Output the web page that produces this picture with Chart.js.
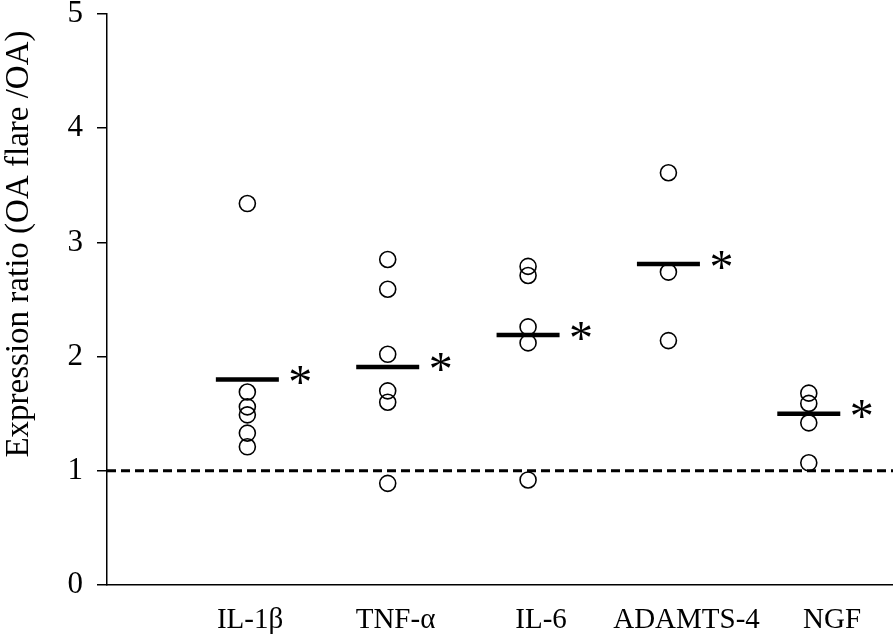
<!DOCTYPE html>
<html>
<head>
<meta charset="utf-8">
<script src="https://cdn.jsdelivr.net/npm/chart.js@4"></script>
<style>
  html, body { margin: 0; padding: 0; background: #fff; }
  #wrap { width: 893px; height: 642px; }
</style>
</head>
<body>
<div id="wrap"><canvas id="myChart"></canvas></div>
<script>
// values
const categories = ['IL-1β', 'TNF-α', 'IL-6', 'ADAMTS-4', 'NGF'];
const il1b = [3.34, 1.69, 1.56, 1.49, 1.33, 1.21];
const tnfa = [2.85, 2.59, 2.02, 1.70, 1.60, 0.89];
const il6 = [2.79, 2.71, 2.26, 2.12, 0.92];
const adamts4 = [3.61, 2.74, 2.14];
const ngf = [1.68, 1.59, 1.42, 1.07];
const means = [1.80, 1.91, 2.19, 2.81, 1.50];
const significant = [true, true, true, true, true];
const yTicks = [0, 1, 2, 3, 4, 5];
const baseline = 1;

const groups = [il1b, tnfa, il6, adamts4, ngf];
const serif = "'Liberation Serif', 'Times New Roman', serif";

var points = [];
groups.forEach(function (vals, i) {
    vals.forEach(function (v) { points.push({x: i + 1, y: v}); });
});
var meanPts = means.map(function (m, i) { return {x: i + 1, y: m}; });

// draws the "*" next to each mean bar
const starPlugin = {
    id: 'stars',
    afterDatasetsDraw(chart) {
        var ctx = chart.ctx, xs = chart.scales.x, ys = chart.scales.y;
        ctx.save();
        ctx.fillStyle = '#000';
        ctx.font = '48px ' + serif;
        ctx.textAlign = 'center';
        ctx.textBaseline = 'middle';
        means.forEach(function (m, i) {
            if (!significant[i]) return;
            ctx.fillText('*', xs.getPixelForValue(i + 1) + 53, ys.getPixelForValue(m) + 6);
        });
        ctx.restore();
    }
};

function noPad(s) {
    s.paddingTop = 0; s.paddingBottom = 0; s.paddingLeft = 0; s.paddingRight = 0;
}

var ctx = document.getElementById('myChart').getContext('2d');
var myChart = new Chart(ctx, {
    type: 'scatter',
    data: {
        datasets: [{
            label: 'ratio',
            data: points,
            pointStyle: 'circle',
            pointRadius: 8,
            pointHoverRadius: 8,
            pointBorderWidth: 1.6,
            borderColor: '#000',
            backgroundColor: 'rgba(0,0,0,0)'
        }, {
            label: 'mean',
            data: meanPts,
            pointStyle: 'line',
            pointRadius: 31.5,
            pointHoverRadius: 31.5,
            pointBorderWidth: 4.5,
            borderColor: '#000'
        }, {
            label: 'baseline',
            type: 'line',
            data: [{x: 0, y: baseline}, {x: 5.6, y: baseline}],
            borderColor: '#000',
            borderWidth: 3,
            borderDash: [9, 5],
            pointRadius: 0
        }]
    },
    options: {
        responsive: true,
        maintainAspectRatio: false,
        animation: false,
        layout: { autoPadding: false, padding: { top: 14, right: 0, left: 0, bottom: 0 } },
        plugins: {
            legend: { display: false },
            tooltip: { enabled: false }
        },
        scales: {
            x: {
                type: 'linear',
                min: 0,
                max: 5.6,
                weight: 0,
                ticks: { display: false },
                grid: { display: false, drawTicks: false },
                border: { display: true, color: '#000', width: 1.5 },
                afterFit: function (s) { s.height = 0; noPad(s); }
            },
            xl: {
                type: 'linear',
                position: 'bottom',
                min: 0.017,
                max: 5.419,
                weight: 1,
                afterBuildTicks: function (s) { s.ticks = categories.map(function (c, i) { return {value: i + 1}; }); },
                grid: { display: false, drawTicks: false },
                border: { display: false },
                ticks: {
                    autoSkip: false,
                    maxRotation: 0,
                    padding: 18,
                    color: '#000',
                    font: { family: serif, size: 29 },
                    callback: function (v) {
                        return (Number.isInteger(v) && v >= 1 && v <= categories.length) ? categories[v - 1] : '';
                    }
                },
                afterFit: function (s) { s.height = 57; noPad(s); }
            },
            y: {
                min: yTicks[0],
                max: yTicks[yTicks.length - 1],
                afterBuildTicks: function (s) { s.ticks = yTicks.map(function (v) { return {value: v}; }); },
                grid: { display: true, drawOnChartArea: false, drawTicks: true, tickLength: 10, color: '#000', lineWidth: 1.5 },
                border: { display: true, color: '#000', width: 1.5 },
                ticks: {
                    padding: 14,
                    color: '#000',
                    font: { family: serif, size: 31 }
                },
                title: {
                    display: true,
                    // two trailing spaces nudge the title down from the top end
                    text: 'Expression ratio (OA flare /OA)  ',
                    align: 'end',
                    color: '#000',
                    font: { family: serif, size: 33 },
                    padding: { top: 0, bottom: 0 }
                },
                afterFit: function (s) { s.width = 107; noPad(s); }
            }
        }
    },
    plugins: [starPlugin]
});
</script>
</body>
</html>
